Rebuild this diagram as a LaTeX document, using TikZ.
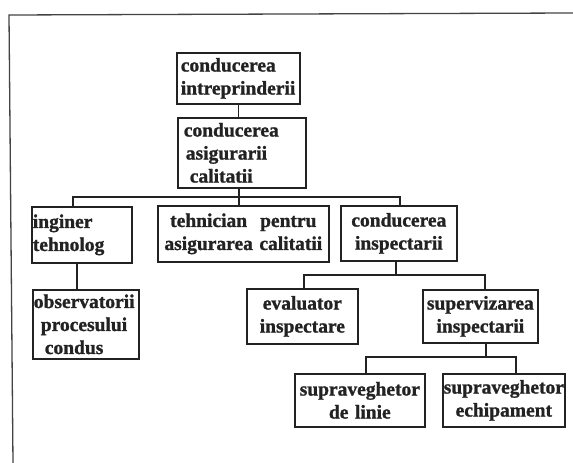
\documentclass[tikz,border=0pt]{standalone}
\usepackage{fontspec}
\setmainfont{Liberation Serif}[BoldFeatures={FakeBold=1.2}]
\definecolor{ink}{HTML}{222222}
\begin{document}
\begin{tikzpicture}[x=1pt,y=-1pt,
  box/.style={draw=ink, line width=1.7pt, anchor=north west, inner ysep=0pt,
    font=\bfseries\fontsize{19.5}{23}\selectfont, text=ink},
  wire/.style={draw=ink, line width=1.7pt},
  frame/.style={draw=ink!85, line width=1.3pt}]
\useasboundingbox (0,0) rectangle (573,463);
% frame
\coordinate (tl) at (9,15);
\coordinate (tr) at (573,13);
\coordinate (bl) at (13,463);
\draw[frame] (bl) -- (tl) -- (tr);
% boxes
\node[box, inner xsep=4pt, text width=115pt, minimum height=51pt, align=left] (n1) at (176,52) {conducerea\\intreprinderii};
\node[box, inner xsep=6pt, text width=116pt, minimum height=70pt, align=left] (n2) at (177,117) {conducerea\\\hspace*{2pt}asigurarii\\\hspace*{6pt}calitatii};
\node[box, inner xsep=1pt, text width=98pt, minimum height=56pt, align=left] (n3) at (31,206) {inginer\\tehnolog};
\node[box, inner xsep=2pt, text width=167pt, minimum height=56pt, align=center] (n4) at (157,205) {tehnician\ \ pentru\\asigurarea calitatii};
\node[box, inner xsep=2pt, text width=112pt, minimum height=55pt, align=center] (n5) at (340,205) {conducerea\\inspectarii};
\node[box, inner xsep=2pt, text width=107pt, minimum height=55pt, align=center] (n6) at (246,288) {evaluator\\inspectare};
\node[box, inner xsep=2pt, text width=111pt, minimum height=53pt, align=center] (n7) at (422,289) {supervizarea\\inspectarii};
\node[box, inner xsep=2pt, text width=126pt, minimum height=53pt, align=center] (n8) at (294,373) {supraveghetor\\de linie};
\node[box, inner xsep=0pt, text width=122pt, minimum height=53pt, align=center] (n9) at (442,373) {supraveghetor\\echipament};
\node[box, inner xsep=1pt, text width=104pt, minimum height=69pt, align=left] (n10) at (32,289) {observatorii\\\hspace*{7pt}procesului\\\hspace*{11pt}condus};
% connectors
\draw[wire] (n1.south) -- (n1.south |- n2.north);
\coordinate (j1l) at (73,197);
\coordinate (j1r) at (400,197);
\coordinate (c2) at (239,197);
\draw[wire] (c2 |- n2.south) -- (c2);
\draw[wire] (j1l |- n3.north) -- (j1l) -- (j1r) -- (j1r |- n5.north);
\draw[wire] (c2) -- (c2 |- n4.north);
\coordinate (c3) at (77,262);
\draw[wire] (c3 |- n3.south) -- (c3 |- n10.north);
\coordinate (j2l) at (304,275);
\coordinate (j2r) at (485,275);
\coordinate (c5) at (396,275);
\draw[wire] (c5 |- n5.south) -- (c5);
\draw[wire] (j2l |- n6.north) -- (j2l) -- (j2r) -- (j2r |- n7.north);
\coordinate (j3l) at (366,357);
\coordinate (j3r) at (516,357);
\coordinate (c7) at (486,357);
\draw[wire] (c7 |- n7.south) -- (c7);
\draw[wire] (j3l |- n8.north) -- (j3l) -- (j3r) -- (j3r |- n9.north);
\end{tikzpicture}
\end{document}
